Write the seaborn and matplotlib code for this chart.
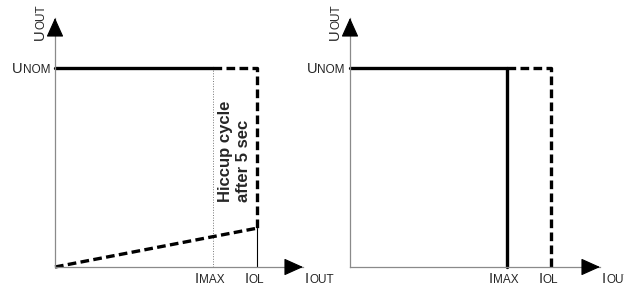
import matplotlib.pyplot as plt
import seaborn as sns

sns.set_style("white")
plt.rcParams['font.family'] = ['Liberation Sans', 'DejaVu Sans']

# --- values, normalised so that I_OL = 1 and U_NOM = 1 ---
i_max = 0.78
i_ol = 1.0
u_nom = 1.0
u_hiccup = 0.195

# left panel: hiccup mode
hic_solid_x = [0, i_max]
hic_solid_y = [u_nom, u_nom]
hic_dash_x = [i_max, i_ol, i_ol]
hic_dash_y = [u_nom, u_nom, u_hiccup]
hic_slope_x = [0, i_ol]
hic_slope_y = [0, u_hiccup]

# right panel: constant current / cut off
cl_solid_x = [0, i_max, i_max]
cl_solid_y = [u_nom, u_nom, 0]
cl_dash_x = [i_max, i_ol, i_ol]
cl_dash_y = [u_nom, u_nom, 0]

tick_values = [i_max, i_ol]
tick_labels = [("I", "MAX"), ("I", "OL")]
hiccup_note = "Hiccup cycle\nafter 5 sec"

BIG = 10.5
SMALL = 8.5
PX = 0.72  # pixels -> points at dpi 100
DASH = (0, (2.6, 1.3))

fig = plt.figure(figsize=(6.24, 2.90), dpi=100)
renderer = fig.canvas.get_renderer()


def width_pts(s, size):
    t = fig.text(0, 0, s, fontsize=size)
    w = t.get_window_extent(renderer).width
    t.remove()
    return w * 72 / fig.dpi


def sub_label(ax, xy, coords, main, sub, dx=0, dy=0, ha='left', rot=0):
    w1 = width_pts(main, BIG)
    w2 = width_pts(sub, SMALL)
    start = {'left': 0, 'center': -(w1 + w2) / 2, 'right': -(w1 + w2)}[ha]
    if rot == 0:
        offs = [(dx + start, dy), (dx + start + w1, dy)]
    else:
        offs = [(dx, dy + start), (dx, dy + start + w1)]
    for s, size, off in zip((main, sub), (BIG, SMALL), offs):
        ax.annotate(s, xy=xy, xycoords=coords, xytext=off, textcoords='offset points',
                    fontsize=size, ha='left', va='baseline', rotation=rot,
                    rotation_mode='anchor', annotation_clip=False)


def setup_axes(ax, xmax):
    ax.set_xlim(0, xmax)
    ax.set_ylim(0, 1.251)
    ax.set_xticks([])
    ax.set_yticks([])
    for s in ['top', 'right']:
        ax.spines[s].set_visible(False)
    for s in ['left', 'bottom']:
        ax.spines[s].set_color('#8a8a8a')
        ax.spines[s].set_linewidth(0.9)
    arrow = dict(arrowstyle='-|>,head_length=1.0,head_width=0.45', color='black',
                 lw=0.8, mutation_scale=12, shrinkA=0, shrinkB=0)
    ax.annotate('', xy=(0, 1), xytext=(0, 0.93), xycoords='axes fraction', arrowprops=arrow)
    ax.annotate('', xy=(1, 0), xytext=(0.93, 0), xycoords='axes fraction', arrowprops=arrow)
    # axis names
    sub_label(ax, (0, 1), 'axes fraction', "U", "OUT", dx=-11 * PX, dy=-22 * PX, rot=90)
    sub_label(ax, (1, 0), 'axes fraction', "I", "OUT", dx=2 * PX, dy=-16 * PX)
    sub_label(ax, (0, u_nom), ax.get_yaxis_transform(), "U", "NOM",
              dx=-5 * PX, dy=-5 * PX, ha='right')
    for v, (m, s) in zip(tick_values, tick_labels):
        sub_label(ax, (v, 0), ax.get_xaxis_transform(), m, s,
                  dx=-3 * PX, dy=-16 * PX, ha='center')


def line(ax, x, y, color='black', **kw):
    sns.lineplot(x=x, y=y, ax=ax, sort=False, estimator=None, color=color,
                 legend=False, clip_on=False, **kw)


# left panel
ax1 = fig.add_axes([55 / 624, 23 / 290, 248 / 624, 249 / 290])
setup_axes(ax1, 248 / 202)
line(ax1, [i_max, i_max], [0, u_nom], lw=0.7, linestyle=':', color='#777777')
line(ax1, [i_ol, i_ol], [0, u_hiccup], lw=0.8)
line(ax1, hic_solid_x, hic_solid_y, lw=2.4)
line(ax1, hic_dash_x, hic_dash_y, lw=2.4, linestyle=DASH)
line(ax1, hic_slope_x, hic_slope_y, lw=2.4, linestyle=DASH)
ax1.text((i_max + i_ol) / 2, 0.325, hiccup_note, rotation=90, ha='center', va='bottom',
         multialignment='left', fontsize=12, fontweight='bold', linespacing=1.25)

# right panel
ax2 = fig.add_axes([350 / 624, 23 / 290, 250 / 624, 249 / 290])
setup_axes(ax2, 250 / 201)
line(ax2, cl_dash_x, cl_dash_y, lw=2.4, linestyle=DASH)
line(ax2, cl_solid_x, cl_solid_y, lw=2.4)

fig.savefig("out.png", dpi=100)
